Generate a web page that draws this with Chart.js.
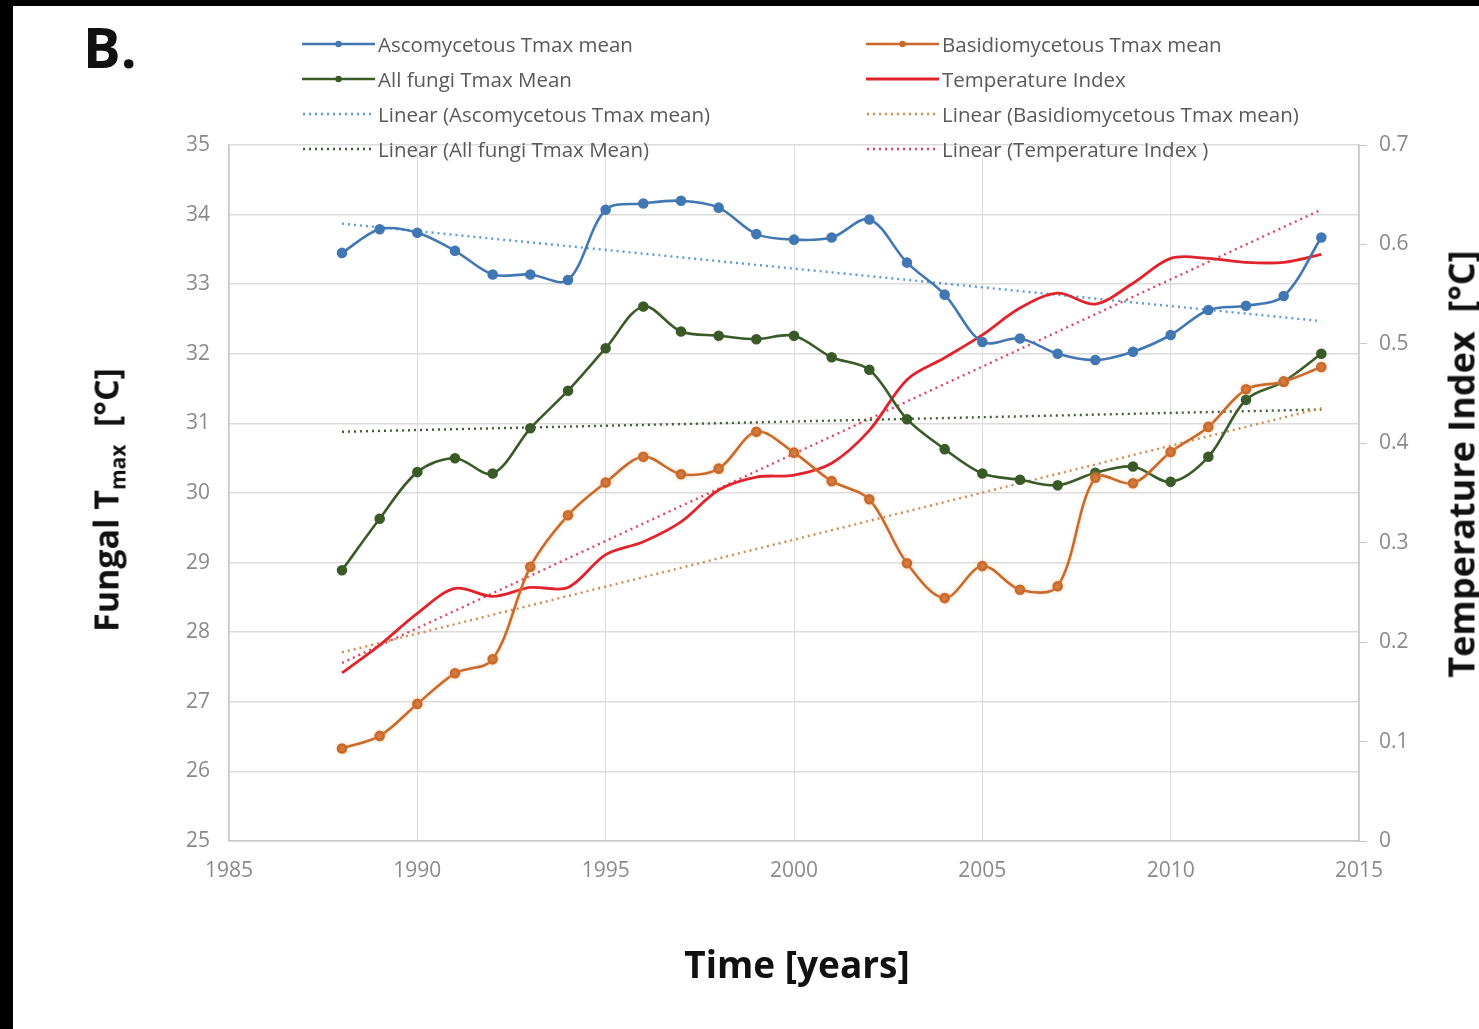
<!DOCTYPE html>
<html>
<head>
<meta charset="utf-8">
<script src="https://cdn.jsdelivr.net/npm/chart.js@4.4.1/dist/chart.umd.min.js"></script>
<style>
  html, body { margin: 0; padding: 0; background: #000; width: 1479px; height: 1029px; overflow: hidden; }
  #page { position: absolute; left: 13px; top: 6px; width: 1466px; height: 1023px; background: #fff; overflow: hidden; }
  #chart { position: absolute; left: 0; top: 0; }
  .panel { position: absolute; left: 70px; top: 2px; font: bold 56px "Open Sans", sans-serif; color: #111; }
  .ytitle { position: absolute; font: bold 36px "Open Sans", sans-serif; color: #111; white-space: nowrap;
            transform: translate(-50%, -50%) rotate(-90deg); }
  .ytitle.left { font-size: 34px; }
  .ytitle sub { font-size: 21px; vertical-align: -7px; }
  .xtitle { position: absolute; left: 784px; top: 957px; transform: translate(-50%, -50%);
            font: bold 37px "Open Sans", sans-serif; color: #111; white-space: nowrap; }
  #legend { position: absolute; left: 0; top: 0; }
  .item { position: absolute; height: 30px; display: flex; align-items: center; white-space: nowrap;
          font: 20.5px "Open Sans", sans-serif; color: #595959; transform: translateY(-50%); }
  .item svg { margin-right: 3px; }
</style>
</head>
<body>
<div id="page">
  <canvas id="chart" width="1466" height="1023"></canvas>
  <div class="panel">B.</div>
  <div class="ytitle left" style="left:94px; top:494px;">Fungal T<sub>max</sub>&nbsp; [°C]</div>
  <div class="ytitle" style="left:1448px; top:458px;">Temperature Index&nbsp; [°C]</div>
  <div class="xtitle">Time [years]</div>
  <div id="legend"></div>
</div>
<script>
// Sampling years
const years = [1988, 1989, 1990, 1991, 1992, 1993, 1994, 1995, 1996, 1997, 1998, 1999, 2000,
               2001, 2002, 2003, 2004, 2005, 2006, 2007, 2008, 2009, 2010, 2011, 2012, 2013, 2014];

// Mean maximal growth temperature (°C)
const ascoTmax = [33.45, 33.79, 33.74, 33.48, 33.14, 33.14, 33.06, 34.07, 34.16, 34.20, 34.10, 33.72, 33.64,
                  33.67, 33.93, 33.31, 32.85, 32.17, 32.22, 32.00, 31.91, 32.03, 32.27, 32.63, 32.69, 32.83, 33.67];
const basidioTmax = [26.33, 26.51, 26.97, 27.41, 27.61, 28.94, 29.68, 30.15, 30.52, 30.27, 30.35, 30.88, 30.58,
                     30.17, 29.91, 28.99, 28.49, 28.95, 28.61, 28.66, 30.22, 30.14, 30.59, 30.95, 31.49, 31.60, 31.81];
const allFungiTmax = [28.89, 29.63, 30.30, 30.50, 30.28, 30.93, 31.47, 32.08, 32.68, 32.32, 32.26, 32.21, 32.26,
                      31.95, 31.77, 31.06, 30.63, 30.28, 30.19, 30.11, 30.29, 30.38, 30.16, 30.52, 31.34, 31.60, 32.00];

// Temperature index (°C), right axis
const tempIndex = [0.169, 0.197, 0.229, 0.254, 0.246, 0.255, 0.255, 0.288, 0.301, 0.321, 0.353, 0.366, 0.368,
                   0.380, 0.413, 0.464, 0.486, 0.509, 0.536, 0.551, 0.540, 0.561, 0.586, 0.586, 0.582, 0.582, 0.590];

// Linear trend lines: values at the first and last year
const trendYears = [1988, 2014];
const ascoTrend = [33.87, 32.47];
const basidioTrend = [27.71, 31.22];
const allFungiTrend = [30.88, 31.20];
const tempTrend = [0.179, 0.635];

// Axis ranges and tick steps
const xRange = [1985, 2015, 5];
const yLeftRange = [25, 35, 1];
const yRightRange = [0, 0.7, 0.1];

const pts = (xs, ys) => xs.map((x, i) => ({ x: x, y: ys[i] }));

const BLUE = '#4177b3', GREEN = '#3a5b28', ORANGE = '#c9692c', RED = '#e2232b';

function seriesSet(label, ys, color, opts) {
  return Object.assign({
    label: label,
    data: pts(years, ys),
    yAxisID: 'y',
    borderColor: color,
    backgroundColor: color,
    borderWidth: 2.6,
    pointRadius: 4,
    pointHoverRadius: 4,
    pointBackgroundColor: color,
    pointBorderColor: color,
    tension: 0.33,
    fill: false
  }, opts || {});
}

function trendSet(label, ys, color, axis) {
  return {
    label: label,
    data: pts(trendYears, ys),
    yAxisID: axis,
    borderColor: color,
    backgroundColor: color,
    borderWidth: 2.4,
    borderDash: [2, 4],
    pointRadius: 0,
    tension: 0,
    fill: false,
    trend: true
  };
}

const datasets = [
  seriesSet('Ascomycetous Tmax mean', ascoTmax, BLUE),
  seriesSet('Basidiomycetous Tmax mean', basidioTmax, ORANGE, { glow: 'rgba(250,190,130,0.45)' }),
  seriesSet('All fungi Tmax Mean', allFungiTmax, GREEN),
  seriesSet('Temperature Index', tempIndex, RED, { yAxisID: 'y1', pointRadius: 0, borderWidth: 2.8 }),
  trendSet('Linear (Ascomycetous Tmax mean)', ascoTrend, '#5b9bd5', 'y'),
  trendSet('Linear (Basidiomycetous Tmax mean)', basidioTrend, '#cf8a4e', 'y'),
  trendSet('Linear (All fungi Tmax Mean)', allFungiTrend, '#3f6030', 'y'),
  trendSet('Linear (Temperature Index )', tempTrend, '#e04462', 'y1')
];

// Soft halo around lines that carry a glow colour
const glowPlugin = {
  id: 'glow',
  beforeDatasetDraw(chart, args) {
    const ds = chart.data.datasets[args.index];
    if (ds.glow) {
      chart.ctx.save();
      chart.ctx.shadowColor = ds.glow;
      chart.ctx.shadowBlur = 4;
    }
  },
  afterDatasetDraw(chart, args) {
    if (chart.data.datasets[args.index].glow) chart.ctx.restore();
  }
};

const tickFont = { family: '"Open Sans", sans-serif', size: 21 };
const tickColor = '#8a8a8a';
const gridColor = '#dcdcdc';

const chart = new Chart(document.getElementById('chart'), {
  type: 'line',
  data: { datasets: datasets },
  plugins: [glowPlugin],
  options: {
    responsive: false,
    devicePixelRatio: 1,
    animation: false,
    layout: { padding: { top: 139, left: 0, right: 0, bottom: 138 } },
    plugins: { legend: { display: false }, tooltip: { enabled: false } },
    scales: {
      x: {
        type: 'linear',
        min: xRange[0], max: xRange[1],
        ticks: { stepSize: xRange[2], color: tickColor, font: tickFont, padding: 17,
                 callback: v => String(v) },
        grid: { color: gridColor, lineWidth: 1, drawTicks: false },
        border: { color: '#c8c8c8', width: 1.5 },
        afterFit: s => { s.height = 50; }
      },
      y: {
        position: 'left',
        min: yLeftRange[0], max: yLeftRange[1],
        ticks: { stepSize: yLeftRange[2], color: tickColor, font: tickFont, padding: 19 },
        grid: { color: gridColor, lineWidth: 1.5, drawTicks: false },
        border: { color: '#c8c8c8', width: 1.5 },
        afterFit: s => { s.width = 216; }
      },
      y1: {
        position: 'right',
        min: yRightRange[0], max: yRightRange[1],
        ticks: { stepSize: yRightRange[2], color: tickColor, font: tickFont, padding: 12,
                 callback: v => (Math.abs(v) < 1e-9 ? '0' : v.toFixed(1)) },
        grid: { drawOnChartArea: false, color: '#c8c8c8', tickLength: 8, lineWidth: 1 },
        border: { color: '#c8c8c8', width: 1.5 },
        afterFit: s => { s.width = 120; }
      }
    }
  }
});

// Two-column legend built from the datasets
const legendSlots = [
  ['Ascomycetous Tmax mean', 289, 38], ['All fungi Tmax Mean', 289, 73],
  ['Linear (Ascomycetous Tmax mean)', 289, 108], ['Linear (All fungi Tmax Mean)', 289, 143],
  ['Basidiomycetous Tmax mean', 853, 38], ['Temperature Index', 853, 73],
  ['Linear (Basidiomycetous Tmax mean)', 853, 108], ['Linear (Temperature Index )', 853, 143]
];
const legendEl = document.getElementById('legend');
legendSlots.forEach(([label, lx, ly]) => {
  const ds = chart.data.datasets.find(d => d.label === label);
  const item = document.createElement('div');
  item.className = 'item';
  item.style.left = lx + 'px';
  item.style.top = ly + 'px';
  const w = 73;
  let svg = '<svg width="' + w + '" height="12" viewBox="0 0 ' + w + ' 12">';
  if (ds.trend) {
    svg += '<line x1="1" y1="6" x2="' + (w - 1) + '" y2="6" stroke="' + ds.borderColor +
           '" stroke-width="2.4" stroke-dasharray="2 4"/>';
  } else {
    svg += '<line x1="0" y1="6" x2="' + w + '" y2="6" stroke="' + ds.borderColor +
           '" stroke-width="' + ds.borderWidth + '"/>';
    if (ds.pointRadius > 0) {
      svg += '<circle cx="' + (w / 2) + '" cy="6" r="3.2" fill="' + ds.borderColor + '"/>';
    }
  }
  svg += '</svg>';
  item.innerHTML = svg + '<span>' + label + '</span>';
  legendEl.appendChild(item);
});
</script>
</body>
</html>
